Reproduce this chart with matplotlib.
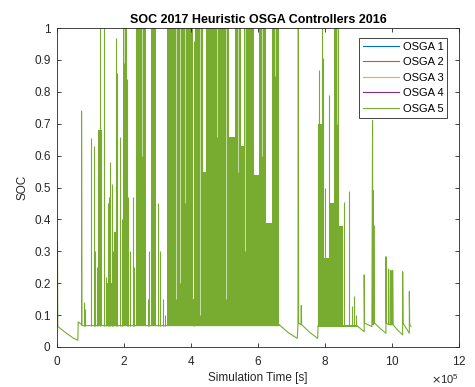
import matplotlib
matplotlib.use('Agg')
import matplotlib.pyplot as plt
import matplotlib.ticker as mticker
from matplotlib.lines import Line2D

series_names = ['OSGA 1', 'OSGA 2', 'OSGA 3', 'OSGA 4', 'OSGA 5']
series_colors = ['#0072BD', '#D95319', '#EDB120', '#7E2F8E', '#77AC30']

# trace with the slow decays and the isolated spikes
trace_t = [0.0, 0.0, 0.01, 0.27, 0.47, 0.61, 0.62, 0.72,
           0.72, 0.73, 6.63,
           6.63, 6.90, 7.17, 7.19, 7.20, 7.21, 7.28, 7.29, 7.30, 7.55, 7.78, 7.79,
           8.95, 9.17, 9.17, 9.18, 9.40, 9.42, 9.43, 9.44, 9.45, 9.46, 9.47, 9.48,
           9.65, 9.82, 9.82, 9.83, 9.90, 9.90, 9.91, 9.97, 9.97, 9.98, 10.02, 10.02,
           10.03, 10.18, 10.32, 10.32, 10.33, 10.52, 10.52, 10.53, 10.57]
trace_v = [0.33, 0.33, 0.064, 0.043, 0.028, 0.021, 0.079, 0.070,
           0.74, 0.067, 0.067,
           0.070, 0.045, 0.027, 0.075, 1.0, 0.075, 0.070, 0.13, 0.070, 0.045, 0.027, 0.067,
           0.067, 0.048, 0.226, 0.075, 0.064, 0.71, 0.07, 0.49, 0.07, 0.38, 0.15, 0.075,
           0.058, 0.043, 0.283, 0.075, 0.07, 0.244, 0.07, 0.07, 0.24, 0.07, 0.07, 0.24,
           0.07, 0.052, 0.038, 0.236, 0.075, 0.043, 0.174, 0.07, 0.065]

# baseline of the dense part between 7.79 and 8.95
cluster_t = [7.79, 8.95]
cluster_v = [0.067, 0.067]

# single spikes on top of the baseline (~0.067)
spike_t = [0.78, 0.82, 0.99, 1.08, 1.12, 1.17, 1.27, 1.40, 1.45, 1.50, 1.55,
           1.58, 1.63, 1.66, 1.74, 1.78, 1.87, 1.92, 2.08, 2.12, 2.18, 2.25,
           2.30, 2.70, 2.74, 3.02, 3.08, 3.14, 3.20, 4.08,
           7.81, 7.90, 7.94, 8.01, 8.13, 8.58, 8.73, 8.80, 8.88, 8.92]
spike_v = [0.14, 0.12, 0.655, 0.63, 0.30, 0.25, 1.0, 1.0, 0.22, 0.45, 0.47,
           0.58, 0.51, 0.30, 0.97, 0.86, 0.66, 0.40, 0.84, 0.47, 0.30, 0.47,
           0.25, 0.15, 0.30, 0.45, 0.30, 0.15, 0.10, 0.96,
           0.87, 1.0, 0.905, 0.50, 0.79, 0.455, 0.49, 0.13, 0.16, 0.10]

# stretches where the signal switches so fast it looks solid
band_start = [1.22, 1.47, 1.70, 1.96, 2.35, 2.80, 3.28, 4.04, 4.12, 4.36, 4.45,
              5.14, 5.30, 5.48, 5.58, 5.87, 6.02, 6.22, 6.42,
              7.80, 7.95, 8.14, 8.28, 8.43]
band_end = [1.34, 1.67, 1.82, 2.08, 2.66, 2.94, 4.04, 4.12, 4.36, 4.45, 5.14,
            5.30, 5.48, 5.58, 5.87, 6.02, 6.22, 6.42, 6.63,
            7.95, 8.14, 8.28, 8.43, 8.53]
band_top = [0.68, 0.20, 0.36, 1.0, 1.0, 1.0, 1.0, 0.15, 1.0, 0.55, 1.0,
            0.66, 1.0, 0.63, 1.0, 0.54, 1.0, 0.39, 1.0,
            0.70, 0.28, 0.45, 1.0, 0.38]
base_level = 0.067

# thin pale gaps seen inside the solid stretches (from the top down to these values)
gap_t = [1.99, 2.52, 3.54, 3.66, 3.80, 4.25, 4.78, 5.03, 5.40, 5.62, 6.10, 6.50, 8.35]
gap_v = [0.89, 0.60, 0.15, 0.20, 0.45, 0.10, 0.66, 0.15, 0.55, 0.30, 0.60, 0.85, 0.70]

plt.rcParams['font.family'] = ['Liberation Sans', 'DejaVu Sans']
axis_gray = '#262626'
green = series_colors[-1]
pale_green = '#c9dfa8'

fig = plt.figure(figsize=(4.75, 3.87), dpi=100)
ax = fig.add_axes([0.121, 0.1034, 0.845, 0.824])

scale = 1e5
ax.plot([t * scale for t in trace_t], trace_v, color=green, lw=0.8)
ax.plot([t * scale for t in cluster_t], cluster_v, color=green, lw=0.8)
ax.vlines([t * scale for t in spike_t], base_level, spike_v, color=green, lw=0.8)
widths = [(e - s) * scale for s, e in zip(band_start, band_end)]
heights = [top - base_level for top in band_top]
ax.bar([s * scale for s in band_start], heights, width=widths, bottom=base_level,
       align='edge', color=green, linewidth=0)
ax.vlines([t * scale for t in gap_t], gap_v, 1.0, color=pale_green, lw=0.7)

ax.set_xlim(0, 12e5)
ax.set_ylim(0, 1)
ax.set_xticks([i * 2e5 for i in range(7)])
ax.set_yticks([i / 10 for i in range(11)])
fmt = mticker.ScalarFormatter(useMathText=True)
fmt.set_powerlimits((5, 5))
ax.xaxis.set_major_formatter(fmt)
ax.yaxis.set_major_formatter(mticker.FormatStrFormatter('%g'))
ax.xaxis.get_offset_text().set_fontsize(8)
ax.xaxis.get_offset_text().set_color(axis_gray)

ax.tick_params(direction='in', top=True, right=True, length=3, width=0.6,
               labelsize=8.5, colors=axis_gray)
ax.tick_params(axis='x', pad=6)
ax.tick_params(axis='y', pad=5)
for sp in ax.spines.values():
    sp.set_color(axis_gray)
    sp.set_linewidth(0.6)

ax.set_title('SOC 2017 Heuristic OSGA Controllers 2016', fontsize=9,
             fontweight='bold', pad=4)
ax.set_xlabel('Simulation Time [s]', fontsize=8.5, color=axis_gray, labelpad=3)
ax.set_ylabel('SOC', fontsize=8.5, color=axis_gray)

handles = [Line2D([], [], color=c, lw=0.8) for c in series_colors]
leg = ax.legend(handles, series_names, loc='upper right', bbox_to_anchor=(0.971, 0.970),
                borderaxespad=0, fontsize=8, handlelength=3.3, handletextpad=0.3,
                labelspacing=0.5, fancybox=False, framealpha=1, borderpad=0.35)
leg.get_frame().set_edgecolor(axis_gray)
leg.get_frame().set_linewidth(0.6)

fig.savefig('out.png', dpi=100)
